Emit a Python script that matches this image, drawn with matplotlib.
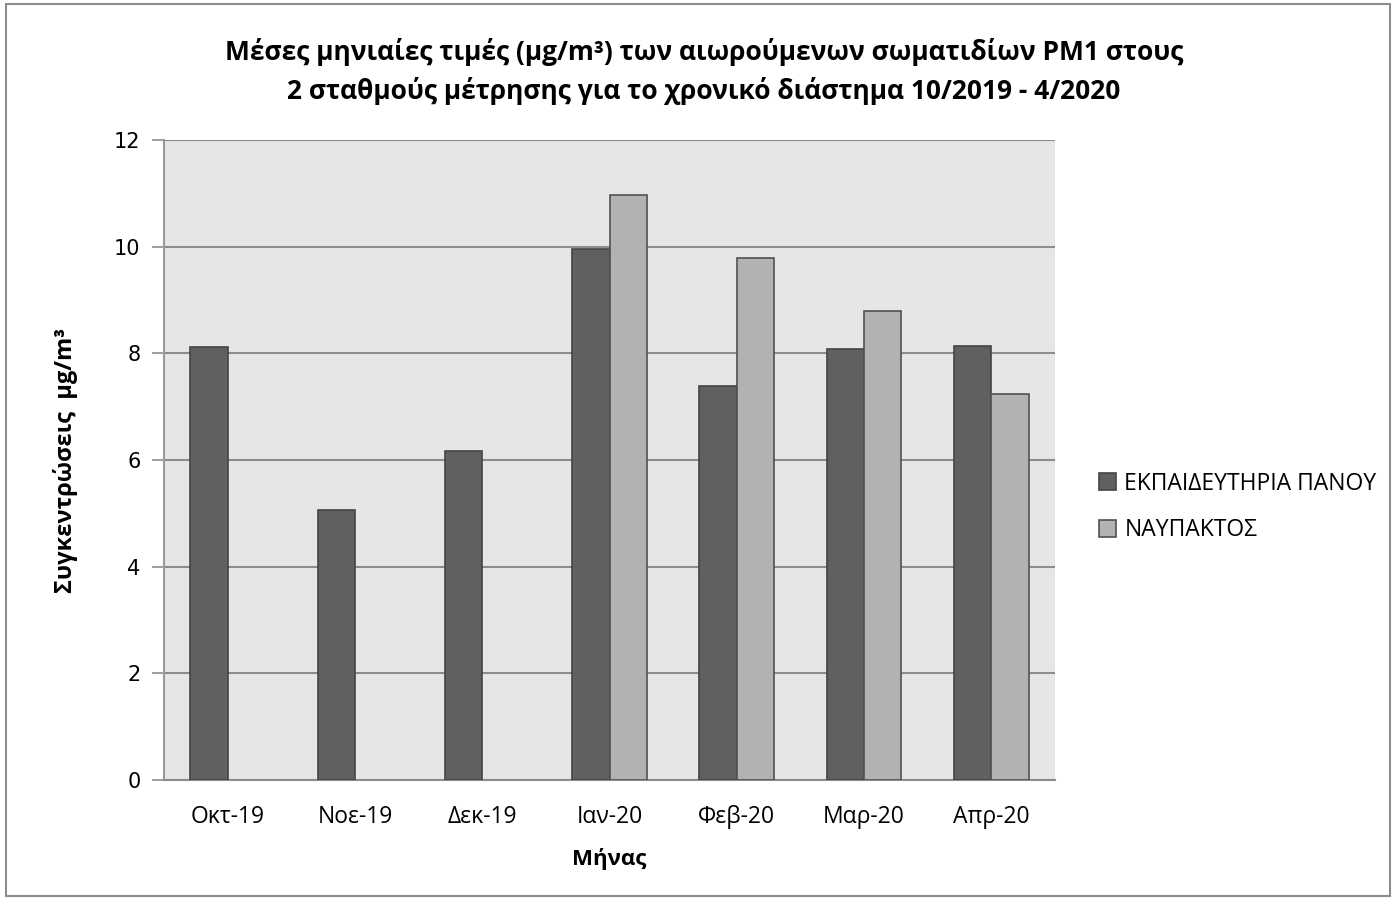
import matplotlib
matplotlib.use("Agg")
import matplotlib.pyplot as plt
import numpy as np
from matplotlib.patches import Rectangle

plt.rcParams['font.family'] = ['Open Sans', 'DejaVu Sans']

months = ["Οκτ-19", "Νοε-19", "Δεκ-19", "Ιαν-20", "Φεβ-20", "Μαρ-20", "Απρ-20"]
series_names = ["ΕΚΠΑΙΔΕΥΤΗΡΙΑ ΠΑΝΟΥ", "ΝΑΥΠΑΚΤΟΣ"]
panou = [8.11, 5.06, 6.17, 9.96, 7.39, 8.09, 8.13]
nafpaktos = [np.nan, np.nan, np.nan, 10.96, 9.79, 8.79, 7.24]
yticks = [0, 2, 4, 6, 8, 10, 12]

fig = plt.figure(figsize=(13.94, 8.99), dpi=100)
fig.patches.append(Rectangle((0.004, 0.003), 0.993, 0.993, transform=fig.transFigure,
                             fill=False, edgecolor='#8c8c8c', linewidth=1.5))
ax = fig.add_axes([164/1394, 1-780/899, (1055-164)/1394, (780-140)/899])
ax.set_facecolor('#e6e6e6')

x = np.arange(len(months))
w = 0.293
ax.bar(x - w/2, panou, w, color='#606060', edgecolor='#454545', linewidth=1.2,
       label=series_names[0], zorder=3)
ax.bar(x + w/2, nafpaktos, w, color='#b2b2b2', edgecolor='#505050', linewidth=1.2,
       label=series_names[1], zorder=3)

ax.set_xlim(-0.5, len(months) - 0.5)
ax.set_ylim(0, 12)
ax.set_yticks(yticks)
ax.set_yticklabels([str(t) for t in yticks], fontsize=15, family=['DejaVu Sans'])
ax.set_xticks(x)
ax.set_xticklabels(months, fontsize=16.5)
ax.grid(axis='y', color='#8c8c8c', linewidth=1.5, zorder=1)
for s in ['top', 'right']:
    ax.spines[s].set_visible(False)
ax.spines['left'].set_color('#9a9a9a')
ax.spines['left'].set_linewidth(1.5)
ax.spines['bottom'].set_color('#8c8c8c')
ax.spines['bottom'].set_linewidth(1.5)
ax.tick_params(axis='y', length=9, color='#8c8c8c', width=1.2, pad=8)
ax.tick_params(axis='x', length=0, pad=18)

ax.set_xlabel("Μήνας", fontsize=16, fontweight='bold', labelpad=14)
ax.set_ylabel("Συγκεντρώσεις  μg/m³", fontsize=17, fontweight='bold', labelpad=26)

fig.text(0.505, 0.942, "Μέσες μηνιαίες τιμές (μg/m³) των αιωρούμενων σωματιδίων PM1 στους",
         ha='center', va='center', fontsize=19, fontweight='bold')
fig.text(0.505, 0.899, "2 σταθμούς μέτρησης για το χρονικό διάστημα 10/2019 - 4/2020",
         ha='center', va='center', fontsize=19, fontweight='bold')

leg = fig.legend(loc='center left', bbox_to_anchor=(1090/1394, 1-507/899), frameon=False,
                 fontsize=16.5, handlelength=0.75, handleheight=0.75, labelspacing=1.0,
                 handletextpad=0.35, borderaxespad=0)

fig.savefig("out.png", dpi=100)
